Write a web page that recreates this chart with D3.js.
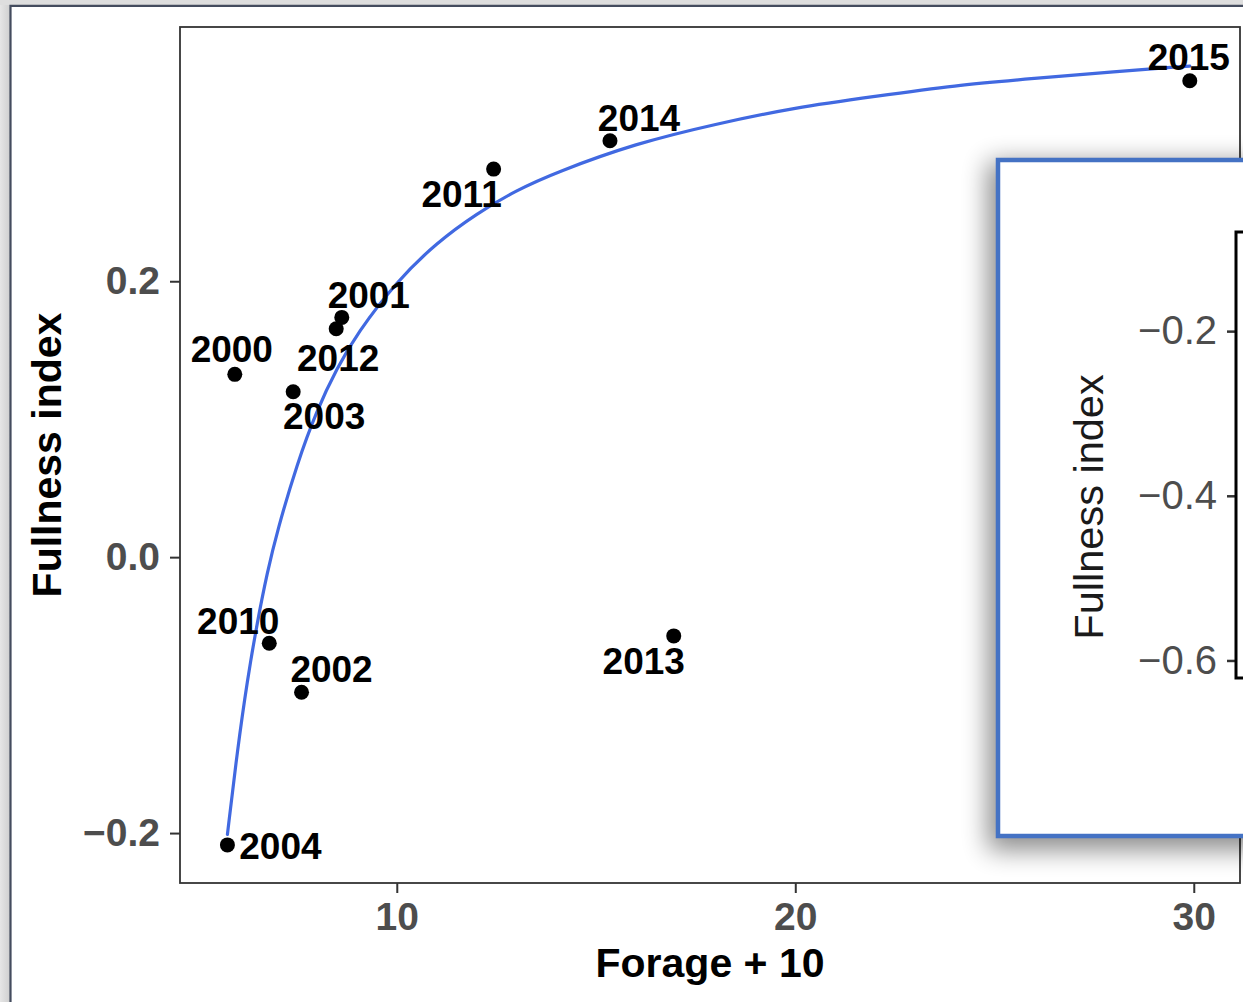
<!DOCTYPE html>
<html>
<head>
<meta charset="utf-8">
<script src="https://cdn.jsdelivr.net/npm/d3@7"></script>
<style>
  html, body { margin: 0; padding: 0; background: #ffffff; }
  svg { display: block; }
  text { font-family: "Liberation Sans", Arial, Helvetica, sans-serif; }
</style>
</head>
<body>
<svg id="chart" width="1243" height="1002"></svg>
<script>
// ---- data ----
const years    = [2000, 2001, 2002, 2003, 2004, 2010, 2011, 2012, 2013, 2014, 2015];
const forage   = [5.935, 8.62, 7.61, 7.40, 5.75, 6.80, 12.43, 8.48, 16.95, 15.35, 29.90];
const fullness = [0.1325, 0.1738, -0.0979, 0.1199, -0.2086, -0.0624, 0.2813, 0.1656, -0.0571, 0.3018, 0.3453];

// fitted saturating curve, sampled along forage + 10
const fitX = [5.75, 6.0, 6.25, 6.5, 6.75, 7.0, 7.5, 8.0, 8.5, 9.0, 10, 11, 12, 13, 14, 16, 18, 20, 22, 24, 26, 28, 29.9];
const fitY = [-0.201, -0.140, -0.089, -0.047, -0.011, 0.019, 0.068, 0.107, 0.137, 0.162, 0.200, 0.228, 0.249, 0.266, 0.279, 0.300, 0.314, 0.326, 0.334, 0.342, 0.347, 0.352, 0.356];

const xTicks = [10, 20, 30];
const yTicks = [-0.2, 0.0, 0.2];
const insetTicks = [-0.2, -0.4, -0.6];

// ---- layout ----
const W = 1243, H = 1002;
const panel = { left: 180, top: 27, right: 1240, bottom: 883 };
const FONT = '"Liberation Sans", Arial, Helvetica, sans-serif';
const minus = s => s.replace("-", "\u2212");

// label placement (px offsets from each point)
const labelOffset = {
  2000: [-3, -26], 2001: [27, -23], 2002: [30, -24], 2003: [31, 24],
  2004: [53, 1],   2010: [-31, -23], 2011: [-32, 25], 2012: [2, 29],
  2013: [-30, 25], 2014: [29, -23], 2015: [-1, -24]
};

const svg = d3.select("#chart");
const defs = svg.append("defs");

// window chrome around the plot
const chrome = defs.append("linearGradient").attr("id", "chromeLeft").attr("x1", 0).attr("x2", 1).attr("y1", 0).attr("y2", 0);
chrome.append("stop").attr("offset", 0).attr("stop-color", "#e6e6e6");
chrome.append("stop").attr("offset", 1).attr("stop-color", "#cfcfcf");
svg.append("rect").attr("x", 0).attr("y", 0).attr("width", W).attr("height", H).attr("fill", "#ffffff");
svg.append("rect").attr("x", 0).attr("y", 0).attr("width", 10).attr("height", H).attr("fill", "url(#chromeLeft)");
svg.append("rect").attr("x", 0).attr("y", 0).attr("width", W).attr("height", 5).attr("fill", "#dedede");
svg.append("path")
  .attr("d", `M10.5,${H} V5.8 H${W}`)
  .attr("fill", "none").attr("stroke", "#444c5e").attr("stroke-width", 2.2);

// ---- scales ----
const x = d3.scaleLinear().domain([4.56, 31.16]).range([panel.left, panel.right]);
const y = d3.scaleLinear().domain([-0.2362, 0.3843]).range([panel.bottom, panel.top]);

// axes
const gx = svg.append("g").attr("transform", `translate(0,${panel.bottom})`)
  .call(d3.axisBottom(x).tickValues(xTicks).tickFormat(d3.format("d")).tickSize(10).tickPadding(9));
const gy = svg.append("g").attr("transform", `translate(${panel.left},0)`)
  .call(d3.axisLeft(y).tickValues(yTicks).tickFormat(d => minus(d3.format(".1f")(d))).tickSize(10).tickPadding(10));
[gx, gy].forEach(g => {
  g.select(".domain").remove();
  g.selectAll(".tick line").attr("stroke", "#333333").attr("stroke-width", 2);
  g.selectAll(".tick text").attr("fill", "#4d4d4d").style("font-family", FONT)
    .style("font-size", "39px").style("font-weight", "bold");
});

// panel border
svg.append("rect")
  .attr("x", panel.left).attr("y", panel.top)
  .attr("width", panel.right - panel.left).attr("height", panel.bottom - panel.top)
  .attr("fill", "none").attr("stroke", "#333333").attr("stroke-width", 1.8);

// axis titles
svg.append("text")
  .attr("x", (panel.left + panel.right) / 2).attr("y", 977)
  .attr("text-anchor", "middle").attr("fill", "#000")
  .style("font-size", "41px").style("font-weight", "bold")
  .text("Forage + 10");
svg.append("text")
  .attr("transform", `translate(61,${(panel.top + panel.bottom) / 2}) rotate(-90)`)
  .attr("text-anchor", "middle").attr("fill", "#000")
  .style("font-size", "41px").style("font-weight", "bold")
  .text("Fullness index");

// fitted curve
const fit = fitX.map((v, i) => [v, fitY[i]]);
svg.append("path")
  .datum(fit)
  .attr("fill", "none").attr("stroke", "#4169e1").attr("stroke-width", 3.2)
  .attr("stroke-linecap", "round")
  .attr("d", d3.line().x(d => x(d[0])).y(d => y(d[1])).curve(d3.curveBasis));

// points
const pts = years.map((yr, i) => ({ year: yr, fx: forage[i], fy: fullness[i] }));
svg.append("g").selectAll("circle").data(pts).join("circle")
  .attr("cx", d => x(d.fx)).attr("cy", d => y(d.fy)).attr("r", 7.5).attr("fill", "#000");

// year labels
svg.append("g").selectAll("text").data(pts).join("text")
  .attr("x", d => x(d.fx) + labelOffset[d.year][0])
  .attr("y", d => y(d.fy) + labelOffset[d.year][1])
  .attr("dy", "0.36em")
  .attr("text-anchor", "middle").attr("fill", "#000")
  .style("font-size", "37px").style("font-weight", "bold")
  .text(d => d.year);

// ---- inset ----
const inset = { left: 998, top: 160, bottom: 836 };
const shadow = defs.append("filter").attr("id", "insetShadow")
  .attr("x", -0.4).attr("y", -0.3).attr("width", 1.8).attr("height", 1.6);
shadow.append("feGaussianBlur").attr("stdDeviation", 13);
svg.append("rect")
  .attr("x", inset.left - 10).attr("y", inset.top + 2)
  .attr("width", 400).attr("height", inset.bottom - inset.top + 12)
  .attr("fill", "#000").attr("opacity", 0.45)
  .attr("filter", "url(#insetShadow)");
svg.append("rect")
  .attr("x", inset.left).attr("y", inset.top)
  .attr("width", 400).attr("height", inset.bottom - inset.top)
  .attr("fill", "#ffffff").attr("stroke", "#4472c4").attr("stroke-width", 4.5);

const iy = d3.scaleLinear().domain([-0.6213, -0.0796]).range([678, 232]);
const insetPanelLeft = 1236;
const giy = svg.append("g").attr("transform", `translate(${insetPanelLeft},0)`)
  .call(d3.axisLeft(iy).tickValues(insetTicks).tickFormat(d => minus(d3.format(".1f")(d))).tickSize(9).tickPadding(10));
giy.select(".domain").remove();
giy.selectAll(".tick line").attr("stroke", "#333333").attr("stroke-width", 2.5);
giy.selectAll(".tick text").attr("fill", "#4d4d4d").style("font-family", FONT)
  .style("font-size", "40px").style("font-weight", "normal");
svg.append("rect")
  .attr("x", insetPanelLeft).attr("y", iy.range()[1])
  .attr("width", 200).attr("height", iy.range()[0] - iy.range()[1])
  .attr("fill", "none").attr("stroke", "#000").attr("stroke-width", 3);
svg.append("text")
  .attr("transform", `translate(1103,${(iy.range()[0] + iy.range()[1]) / 2 + 52}) rotate(-90)`)
  .attr("text-anchor", "middle").attr("fill", "#1a1a1a")
  .style("font-size", "41.5px")
  .text("Fullness index");
</script>
</body>
</html>
